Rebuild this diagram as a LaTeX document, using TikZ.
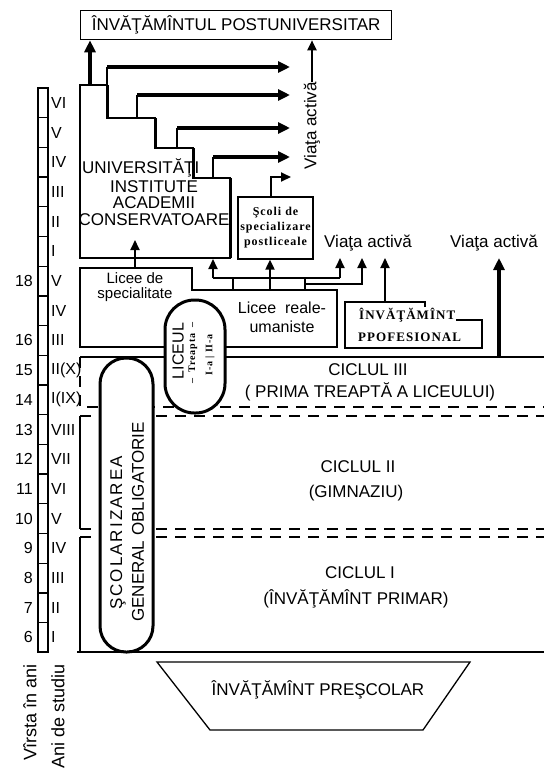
\documentclass[tikz,border=0pt]{standalone}
\usepackage{fontspec}
\setmainfont{Liberation Sans}
\newfontfamily\slab[LetterSpace=8]{Liberation Serif}
\usetikzlibrary{arrows.meta,positioning}

\begin{document}
\begin{tikzpicture}[x=1pt,y=-1pt,font=\fontsize{17}{18}\selectfont,
   >={Triangle[length=10pt,width=9pt]},
   ln/.style={line width=1.3pt},
   hv/.style={line width=3pt},
   dsh/.style={line width=1.3pt,dash pattern=on 11pt off 8pt},
   thk/.style={->,line width=3.5pt,>={Triangle[length=12pt,width=11pt]}},
   thn/.style={->,line width=2pt},
   lbl/.style={inner sep=0pt,align=center},
   slb/.style={inner sep=0pt,align=center,font=\slab\bfseries\fontsize{12}{15}\selectfont},
   pill/.style={line width=3pt,fill=white}]
  \useasboundingbox (0,0) rectangle (544,772);

  % scara anilor
  \draw[ln] (38,88) rectangle (48,652);
  \foreach \i in {1,...,18} \draw[ln] (38,{88+29.7*\i}) -- (48,{88+29.7*\i});
  \foreach \r [count=\i from 0] in {VI,V,IV,III,II,I,V,IV,III,II(X),I(IX),VIII,VII,VI,V,IV,III,II,I}
    \node[lbl,anchor=west,font=\fontsize{16}{18}\selectfont] (an\i) at (51,{88+29.7*(\i+0.5)}) {\r};
  \foreach \i/\a in {6/18,8/16,9/15,10/14,11/13,12/12,13/11,14/10,15/9,16/8,17/7,18/6}
    \node[lbl,anchor=east,font=\fontsize{16}{18}\selectfont] (v\a) at (33,{88+29.7*(\i+0.5)}) {\a};

  \node[draw,ln,lbl,minimum width=311,minimum height=29,anchor=north west] (post) at (80,10) {ÎNVĂŢĂMÎNTUL POSTUNIVERSITAR};

  % universitati
  \draw[ln] (80,258) -- (80,85) -- (107,85) -- (107,118) -- (155,118) -- (155,148) -- (193,148) -- (193,178) -- (230,178) -- (230,258) -- cycle;
  \draw[hv] (107,85) -- (107,118) (155,118) -- (155,148) (193,148) -- (193,178) (230,178) -- (230,258);
  \node[lbl,anchor=west] (univ) at (82,168) {UNIVERSITĂŢI};
  \node[lbl] (inst) at (154,187) {INSTITUTE};
  \node[lbl] (acad) at (154,203) {ACADEMII};
  \node[lbl] (cons) at (154,220) {CONSERVATOARE};
  \coordinate (u0) at (90,85);
  \draw[thk] (u0) -- (u0 |- post.south);
  \coordinate (s1) at (107,85);  \coordinate (t1) at (290,67);
  \coordinate (s2) at (137,118); \coordinate (t2) at (290,95);
  \coordinate (s3) at (177,148); \coordinate (t3) at (290,128);
  \coordinate (s4) at (213,178); \coordinate (t4) at (290,157);
  \foreach \k in {1,...,4} {
    \draw[ln] (s\k) -- (s\k |- t\k);
    \draw[thk] (s\k |- t\k) -- (t\k);
  }

  \node[draw,ln,slb,minimum width=75,minimum height=62] (scoli) at (275.5,228) {Şcoli de\\specializare\\postliceale};
  \coordinate (t5) at (291,177);
  \draw[thn] ([xshift=-5pt]scoli.north) |- (t5);
  \node[lbl,rotate=90] (va1) at (312,126) {Viaţa activă};
  \draw[thn] (va1.east) -- (va1.east |- post.south);

  % licee
  \draw[ln] (80,268) -- (192,268) -- (192,290) -- (337,290) -- (337,347) -- (80,347) -- cycle;
  \node[lbl,font=\fontsize{15}{15}\selectfont] (lspec) at (135,287) {Licee de\\specialitate};
  \node[lbl,font=\fontsize{16}{19}\selectfont] (lreal) at (282,317) {Licee\ \ reale-\\umaniste};
  \coordinate (ls) at (135,268); \coordinate (lu) at (135,240);
  \draw[thn] (ls) -- (lu);
  \coordinate (bl) at (213,278); \coordinate (br) at (340,278);
  \coordinate (k1) at (233,290); \coordinate (k2) at (270,290); \coordinate (k3) at (305,290);
  \coordinate (a1) at (213,259); \coordinate (a3) at (340,258);
  \coordinate (a4) at (362,258); \coordinate (a5) at (385,258);
  \draw[ln] (bl) -- (br);
  \foreach \k in {k1,k2,k3} \draw[ln] (\k) -- (\k |- bl);
  \draw[thn] (bl) -- (a1);
  \draw[thn] (k2 |- bl) -- (k2 |- scoli.south);
  \draw[thn] (br) -- (a3);
  \draw[thn] (k3 |- 0,284) -| (a4);

  \draw[ln] (425,307) -- (425,302) -- (345,302) -- (345,348) -- (482,348) -- (482,320) -- (456,320);
  \node[slb,font=\slab\bfseries\fontsize{13}{15}\selectfont,anchor=west] (prof1) at (359,315) {ÎNVĂŢĂMÎNT};
  \node[slb,font=\slab\bfseries\fontsize{13}{15}\selectfont,anchor=west] (prof2) at (358,337) {PPOFESIONAL};
  \coordinate (pt) at (385,302);
  \draw[thn] (pt) -- (a5);
  \node[lbl] (va2) at (368,243) {Viaţa activă};
  \node[lbl] (va3) at (494,243) {Viaţa activă};
  \coordinate (v2) at (499,357); \coordinate (a6) at (499,258);
  \draw[thk] (v2) -- (a6);

  % cicluri
  \draw[ln] (80,357) -- (544,357);
  \draw[dsh] (80,357) -- (80,407) -- (544,407);
  \draw[dsh] (80,416) -- (544,416);
  \draw[ln] (80,416) -- (80,529);
  \draw[dsh] (80,529) -- (544,529);
  \draw[dsh] (80,537) -- (544,537);
  \draw[ln] (80,537) -- (80,652);
  \draw[ln] (77,652) -- (544,652);
  \node[lbl] (c3a) at (368,370) {CICLUL III};
  \node[lbl] (c3b) at (370,392) {( PRIMA TREAPTĂ A LICEULUI)};
  \node[lbl] (c2a) at (358,467) {CICLUL II};
  \node[lbl] (c2b) at (356,493) {(GIMNAZIU)};
  \node[lbl] (c1a) at (360,573) {CICLUL I};
  \node[lbl] (c1b) at (356,599) {(ÎNVĂŢĂMÎNT PRIMAR)};

  \draw[pill,rounded corners=29.5pt] (165,300) rectangle (225,413);
  \node[lbl,rotate=90,font=\fontsize{16}{18}\selectfont] (lic) at (178,351) {LICEUL};
  \node[slb,rotate=90,font=\slab\bfseries\fontsize{10}{12}\selectfont] (trp) at (193,353) {– \ Treapta \ –};
  \node[slb,rotate=90,font=\slab\bfseries\fontsize{10}{12}\selectfont] (trp2) at (210,355) {I-a | II-a};

  \draw[pill,rounded corners=26pt] (100,358) rectangle (153,652);
  \node[lbl,rotate=90] (sco1) at (118,533) {\addfontfeature{LetterSpace=12}ŞCOLARIZAREA};
  \node[lbl,rotate=90] (sco2) at (138,522) {GENERAL OBLIGATORIE};

  \draw[ln] (157,662) -- (470,662) -- (423,730) -- (210,730) -- cycle;
  \node[lbl] (pres) at (318,690) {ÎNVĂŢĂMÎNT PREŞCOLAR};

  \node[lbl,rotate=90,anchor=east,font=\fontsize{18}{20}\selectfont] (virsta) at (30,664) {Vîrsta în ani};
  \node[lbl,rotate=90,anchor=east,font=\fontsize{18}{20}\selectfont] (anist) at (58,664) {Ani de studiu};
\end{tikzpicture}
\end{document}
